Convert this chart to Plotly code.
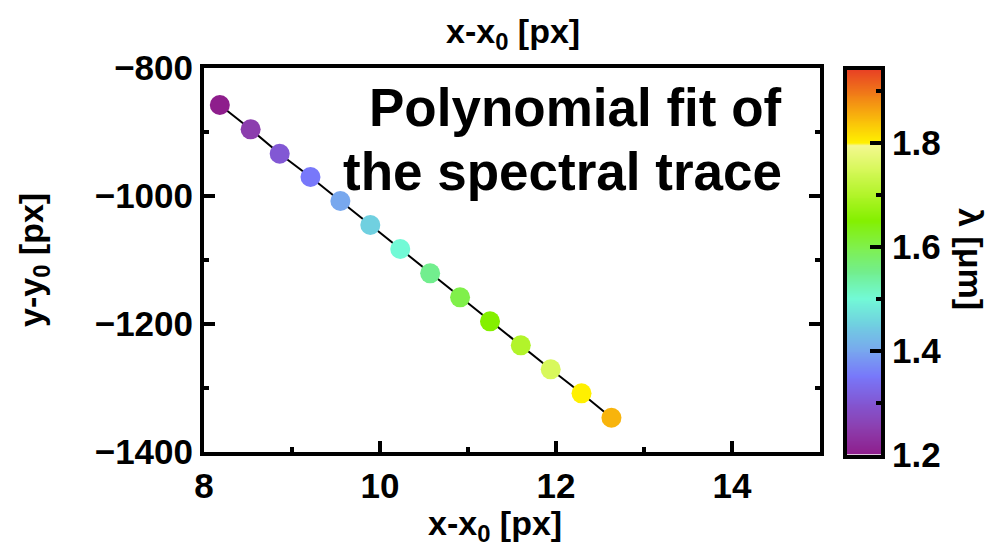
import numpy as np
import plotly.graph_objects as go

# Wavelength samples along the trace and their detector offsets
wavelength_um = [1.20, 1.25, 1.30, 1.35, 1.40, 1.45, 1.50, 1.55, 1.60, 1.65, 1.70, 1.75, 1.80, 1.85]
x_offset_px = [8.18, 8.53, 8.86, 9.21, 9.55, 9.89, 10.23, 10.57, 10.91, 11.25, 11.60, 11.94, 12.29, 12.63]
y_offset_px = [-857.8, -895.8, -933.9, -970.3, -1007.8, -1045.3, -1082.8, -1120.8,
               -1158.3, -1195.8, -1233.3, -1270.8, -1308.3, -1346.4]

x_ticks = [8, 10, 12, 14]
y_ticks = [-1400, -1200, -1000, -800]
cbar_ticks = [1.2, 1.4, 1.6, 1.8]

LAM_MIN, LAM_MAX = 1.2, 1.94

# Colour stops in wavelength units (pale yellow jumps to saturated yellow at 1.8)
stops = [
    (1.20, "#8e1e8c"), (1.25, "#8c3eae"), (1.30, "#8258d4"), (1.35, "#7878fa"),
    (1.40, "#78a8ee"), (1.45, "#70d0e0"), (1.50, "#72fad6"), (1.55, "#72ee8e"),
    (1.60, "#80f04a"), (1.65, "#84f000"), (1.70, "#b2f42a"), (1.75, "#d8f85c"),
    (1.795, "#f4f890"), (1.80, "#fff000"), (1.85, "#f8b40c"), (1.94, "#e84024"),
]
colorscale = [[(lam - LAM_MIN) / (LAM_MAX - LAM_MIN), c] for lam, c in stops]
colorscale[-1][0] = 1.0

FONT = "Liberation Sans, Arial, Helvetica, sans-serif"
FS = 34

fig = go.Figure()

# Polynomial fit line with the sampled points on top
fig.add_trace(go.Scatter(
    x=x_offset_px, y=y_offset_px, mode="lines+markers",
    line=dict(color="black", width=2),
    marker=dict(size=20, color=wavelength_um, colorscale=colorscale,
                cmin=LAM_MIN, cmax=LAM_MAX, showscale=False, line=dict(width=0)),
    hoverinfo="skip", showlegend=False, xaxis="x", yaxis="y",
))

# Colour bar drawn as a one-column heatmap on its own axes
grad = np.linspace(LAM_MIN, LAM_MAX, 400)
fig.add_trace(go.Heatmap(
    x=[0], y=grad, z=[[v] for v in grad], colorscale=colorscale,
    zmin=LAM_MIN, zmax=LAM_MAX, showscale=False, hoverinfo="skip",
    xaxis="x2", yaxis="y2",
))

W, H = 992, 548
left, right, top, bottom = 204, 820, 68, 452

tickfont = dict(family=FONT, size=FS + 1, color="black", weight="bold")

fig.update_layout(
    width=W, height=H,
    margin=dict(l=0, r=0, t=0, b=0),
    paper_bgcolor="white", plot_bgcolor="white",
    font=dict(family=FONT, size=FS, color="black", weight="bold"),
    xaxis=dict(
        domain=[left / W, right / W], range=[8, 15], tickvals=x_ticks,
        ticks="inside", ticklen=11, tickwidth=4, tickcolor="black",
        minor=dict(dtick=1, tick0=8, ticks="inside", ticklen=5, tickwidth=4, tickcolor="black"),
        showline=True, linewidth=4, linecolor="black", mirror=True,
        showgrid=False, zeroline=False, tickfont=tickfont, automargin=False,
        anchor="y",
    ),
    yaxis=dict(
        domain=[1 - bottom / H, 1 - top / H], range=[-1400, -800], tickvals=y_ticks,
        ticks="inside", ticklen=11, tickwidth=4, tickcolor="black",
        minor=dict(dtick=100, tick0=-1400, ticks="inside", ticklen=5, tickwidth=4, tickcolor="black"),
        showline=True, linewidth=4, linecolor="black", mirror="ticks",
        showgrid=False, zeroline=False, tickfont=tickfont, automargin=False,
        anchor="x",
    ),
    xaxis2=dict(
        domain=[847 / W, 881 / W], range=[-0.5, 0.5], anchor="y2",
        showticklabels=False, ticks="", showgrid=False, zeroline=False,
        showline=True, linewidth=4, linecolor="black", mirror=True,
    ),
    yaxis2=dict(
        domain=[1 - 454.5 / H, 1 - 70 / H], range=[LAM_MIN, LAM_MAX], anchor="x2",
        side="right", tickvals=cbar_ticks, ticktext=["1.2", "1.4", "1.6", "1.8"],
        ticks="inside", ticklen=11, tickwidth=4, tickcolor="black",
        minor=dict(dtick=0.2, tick0=1.3, ticks="inside", ticklen=5, tickwidth=4, tickcolor="black"),
        showgrid=False, zeroline=False, tickfont=tickfont, automargin=False,
        showline=True, linewidth=4, linecolor="black", mirror=True,
    ),
)

ann = dict(xref="paper", yref="paper", showarrow=False,
           font=dict(family=FONT, size=FS, color="black", weight="bold"))

# Axis titles
fig.add_annotation(ann, text="x-x<sub>0</sub> [px]", x=513 / W, y=1 - 34 / H,
                   xanchor="center", yanchor="middle")
fig.add_annotation(ann, text="x-x<sub>0</sub> [px]", x=495 / W, y=1 - 525 / H,
                   xanchor="center", yanchor="middle")
fig.add_annotation(ann, text="y-y<sub>0</sub> [px]", x=33 / W, y=1 - 260 / H,
                   xanchor="center", yanchor="middle", textangle=-90)
fig.add_annotation(ann, text="λ [μm]", x=971 / W, y=1 - 259 / H,
                   xanchor="center", yanchor="middle", textangle=90)

# In-plot label
label_font = dict(family=FONT, size=53, color="black", weight="bold")
fig.add_annotation(ann, text="Polynomial fit of", x=784 / W, y=1 - 107 / H,
                   xanchor="right", yanchor="middle", font=label_font)
fig.add_annotation(ann, text="the spectral trace", x=784 / W, y=1 - 171 / H,
                   xanchor="right", yanchor="middle", font=label_font)

fig.write_html("out.html")
